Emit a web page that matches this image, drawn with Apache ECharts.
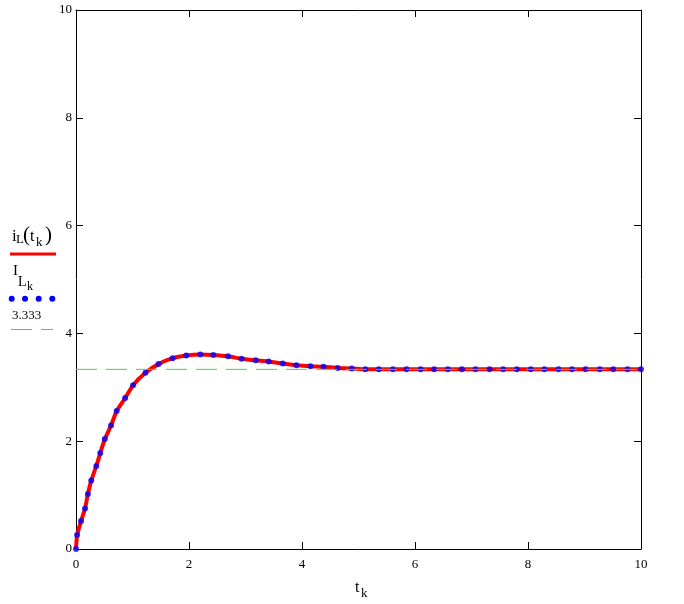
<!DOCTYPE html>
<html>
<head>
<meta charset="utf-8">
<script src="https://cdn.jsdelivr.net/npm/echarts@6/dist/echarts.min.js"></script>
<style>
html,body{margin:0;padding:0;background:#fff;}
#chart{width:684px;height:604px;}
</style>
</head>
<body>
<div id="chart"></div>
<script>
// time samples t_k
var tK = [0, 0.02, 0.09, 0.16, 0.21, 0.27, 0.36, 0.43, 0.51, 0.62, 0.72, 0.87, 1.01, 1.23, 1.46, 1.71, 1.95, 2.20, 2.43, 2.69, 2.93, 3.18, 3.41, 3.66, 3.90, 4.15, 4.38, 4.63, 4.88, 5.12, 5.36, 5.61, 5.85, 6.10, 6.34, 6.58, 6.83, 7.07, 7.32, 7.56, 7.80, 8.05, 8.29, 8.54, 8.78, 9.02, 9.27, 9.51, 9.76, 10.0];
// i_L(t_k) red curve
var iL = [0, 0.26, 0.52, 0.75, 1.02, 1.27, 1.54, 1.78, 2.04, 2.29, 2.56, 2.80, 3.04, 3.27, 3.43, 3.54, 3.59, 3.61, 3.60, 3.575, 3.53, 3.50, 3.48, 3.44, 3.41, 3.39, 3.38, 3.36, 3.35, 3.333, 3.333, 3.333, 3.333, 3.333, 3.333, 3.333, 3.333, 3.333, 3.333, 3.333, 3.333, 3.333, 3.333, 3.333, 3.333, 3.333, 3.333, 3.333, 3.333, 3.333];
// I_L_k blue dots
var ILk = [0, 0.26, 0.52, 0.75, 1.02, 1.27, 1.54, 1.78, 2.04, 2.29, 2.56, 2.80, 3.04, 3.27, 3.43, 3.54, 3.59, 3.61, 3.60, 3.575, 3.53, 3.50, 3.48, 3.44, 3.41, 3.39, 3.38, 3.36, 3.35, 3.333, 3.333, 3.333, 3.333, 3.333, 3.333, 3.333, 3.333, 3.333, 3.333, 3.333, 3.333, 3.333, 3.333, 3.333, 3.333, 3.333, 3.333, 3.333, 3.333, 3.333];
// steady-state level
var steady = 3.333;
var xRange = [0, 10];
var yRange = [0, 10];
var tickStep = 2;

var serif = "'Liberation Serif','DejaVu Serif',serif";
var chart = echarts.init(document.getElementById('chart'), null, {renderer:'canvas'});

function pairs(xs, ys){ var o=[]; for (var i=0;i<xs.length;i++) o.push([xs[i], ys[i]]); return o; }

function txt(s, x, y, fs){
  return {type:'text', x:x, y:y, z:100, style:{text:s, font: fs+'px '+serif, fill:'#000', textAlign:'left', textVerticalAlign:'middle', align:'left', verticalAlign:'middle'}};
}

var axisCommon = {
  type:'value', min:xRange[0], max:xRange[1], interval:tickStep,
  axisLine:{show:true, onZero:false, lineStyle:{color:'#000', width:1}},
  axisTick:{show:true, inside:true, length:7, lineStyle:{color:'#000', width:1}},
  splitLine:{show:false}
};

var option = {
  animation:false,
  backgroundColor:'#fff',
  grid:{left:76, right:43, top:10, bottom:55, containLabel:false},
  xAxis:[
    Object.assign({}, axisCommon, {position:'bottom',
      axisLabel:{show:true, margin:9, color:'#000', fontFamily:serif, fontSize:13}}),
    Object.assign({}, axisCommon, {position:'top', axisLabel:{show:false}})
  ],
  yAxis:[
    Object.assign({}, axisCommon, {min:yRange[0], max:yRange[1], position:'left',
      axisLabel:{show:true, margin:4, color:'#000', fontFamily:serif, fontSize:13}}),
    Object.assign({}, axisCommon, {min:yRange[0], max:yRange[1], position:'right', axisLabel:{show:false}})
  ],
  series:[
    {type:'line', name:'iL', data:pairs(tK, iL), showSymbol:false, symbol:'none',
      lineStyle:{color:'#ff0000', width:4}, smooth:0.2, z:2},
    {type:'scatter', name:'ILk', data:pairs(tK, ILk), symbol:'circle', symbolSize:6,
      itemStyle:{color:'#0000ff'}, z:3},
    {type:'line', name:'steady', data:[[xRange[0], steady],[xRange[1], steady]], symbol:'none',
      lineStyle:{color:'#3fd93f', width:1, type:[21,9]}, z:4}
  ],
  graphic:[
    // legend: i_L(t_k)
    txt('i', 12, 237, 17),
    txt('L', 16, 240, 13),
    {type:'text', x:23, y:235, z:100, style:{text:'(', font:'21px '+serif, fill:'#000', align:'left', verticalAlign:'middle'}},
    txt('t', 30, 237, 16),
    txt('k', 36, 243, 13),
    {type:'text', x:45, y:235, z:100, style:{text:')', font:'21px '+serif, fill:'#000', align:'left', verticalAlign:'middle'}},
    {type:'line', z:100, shape:{x1:10, y1:254, x2:56, y2:254}, style:{stroke:'#ff0000', lineWidth:3}},
    // legend: I_L_k
    txt('I', 13, 271, 15),
    txt('L', 18, 282, 14),
    txt('k', 27, 287, 12),
    {type:'circle', z:100, shape:{cx:11.7, cy:298.7, r:3}, style:{fill:'#0000ff'}},
    {type:'circle', z:100, shape:{cx:25, cy:298.7, r:3}, style:{fill:'#0000ff'}},
    {type:'circle', z:100, shape:{cx:38.7, cy:298.7, r:3}, style:{fill:'#0000ff'}},
    {type:'circle', z:100, shape:{cx:52.3, cy:298.7, r:3}, style:{fill:'#0000ff'}},
    // legend: 3.333
    txt(String(steady), 12, 315.5, 13),
    {type:'line', z:100, shape:{x1:11, y1:329.5, x2:32, y2:329.5}, style:{stroke:'#3fd93f', lineWidth:1}},
    {type:'line', z:100, shape:{x1:41, y1:329.5, x2:53, y2:329.5}, style:{stroke:'#3fd93f', lineWidth:1}},
    // x axis title t_k
    txt('t', 355, 588, 16),
    txt('k', 361, 594, 13)
  ]
};
chart.setOption(option);
</script>
</body>
</html>
